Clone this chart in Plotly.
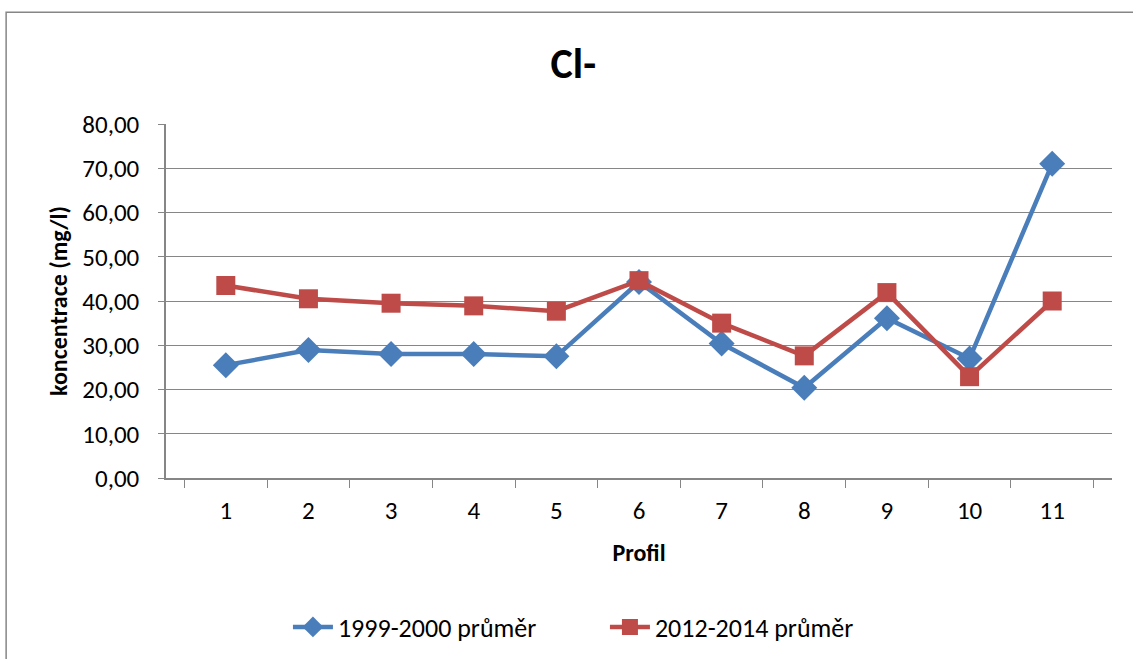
import plotly.graph_objects as go

# Data
profily = ["1", "2", "3", "4", "5", "6", "7", "8", "9", "10", "11"]
prumer_1999_2000 = [25.5, 28.9, 28.0, 28.0, 27.5, 44.3, 30.4, 20.4, 36.1, 27.0, 71.0]
prumer_2012_2014 = [43.5, 40.5, 39.5, 38.9, 37.7, 44.6, 35.0, 27.6, 41.9, 22.9, 40.0]
y_ticks = [0, 10, 20, 30, 40, 50, 60, 70, 80]

font_family = "Calibri, Carlito, Lato, sans-serif"
grid_color = "#868686"

fig = go.Figure()

fig.add_trace(go.Scatter(
    x=profily, y=prumer_1999_2000,
    name="1999-2000 průměr",
    mode="lines+markers",
    line=dict(color="#4A7EBB", width=4.5),
    marker=dict(symbol="diamond", size=20, color="#4A7EBB"),
))

fig.add_trace(go.Scatter(
    x=profily, y=prumer_2012_2014,
    name="2012-2014 průměr",
    mode="lines+markers",
    line=dict(color="#BE4B48", width=4.5),
    marker=dict(symbol="square", size=19, color="#BE4B48"),
))

# Outer chart frame (Excel style)
fig.add_shape(
    type="rect", xref="paper", yref="paper",
    x0=-0.169, x1=1.2, y0=-1.0, y1=1.316,
    line=dict(color=grid_color, width=1.5),
    fillcolor="rgba(0,0,0,0)",
    layer="below",
)

fig.update_layout(
    width=1133,
    height=659,
    paper_bgcolor="white",
    plot_bgcolor="white",
    separators=", ",
    font=dict(family=font_family, size=25, color="black"),
    title=dict(
        text="<b>Cl-</b>",
        x=0.506, xanchor="center",
        y=0.904, yanchor="middle",
        font=dict(size=42, family=font_family),
    ),
    margin=dict(l=166, r=21, t=124, b=181, autoexpand=False),
    showlegend=True,
    legend=dict(
        orientation="h",
        x=0.464, xanchor="center",
        y=-0.421, yanchor="middle",
        font=dict(size=26),
        itemwidth=40,
        entrywidth=262,
        tracegroupgap=0,
    ),
    xaxis=dict(
        type="category",
        tickson="boundaries",
        ticks="outside",
        ticklen=8,
        tickcolor=grid_color,
        ticklabelstandoff=9,
        showline=True,
        linecolor=grid_color,
        linewidth=1.5,
        showgrid=False,
        automargin=False,
        title=dict(text="<b>Profil</b>", font=dict(size=24), standoff=19),
        tickfont=dict(size=25),
    ),
    yaxis=dict(
        range=[0, 80],
        tickvals=y_ticks,
        tickformat=".2f",
        ticks="outside",
        ticklen=6,
        tickcolor=grid_color,
        ticklabelstandoff=14,
        showline=True,
        linecolor=grid_color,
        linewidth=1.5,
        showgrid=True,
        gridcolor=grid_color,
        gridwidth=1,
        zeroline=False,
        automargin=False,
        title=dict(text="<b>koncentrace (mg/l)</b>", font=dict(size=24), standoff=8),
        tickfont=dict(size=25),
    ),
)

# drop the default page margin so the figure sits at the window origin
fig.write_html(
    "out.html",
    config={"displayModeBar": False},
    post_script="document.body.style.margin='0';",
)
